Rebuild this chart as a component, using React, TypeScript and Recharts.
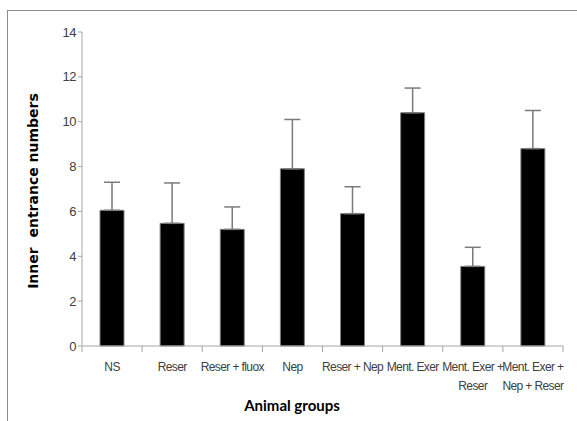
import { BarChart, Bar, XAxis, YAxis, ErrorBar } from "recharts";

const groups = [
  "NS",
  "Reser",
  "Reser + fluox",
  "Nep",
  "Reser + Nep",
  "Ment. Exer",
  "Ment. Exer +\nReser",
  "Ment. Exer +\nNep + Reser",
];
const means = [6.05, 5.47, 5.2, 7.9, 5.9, 10.4, 3.55, 8.8];
const errors = [1.25, 1.8, 1.0, 2.2, 1.2, 1.1, 0.85, 1.7];
const yTicks = [0, 2, 4, 6, 8, 10, 12, 14];

const data = groups.map((g, i) => ({ name: g, value: means[i], err: [0, errors[i]] }));

const tickFont = "'Liberation Sans', Arial, sans-serif";

const XTick = ({ x, y, payload, index }: any) => {
  const step = 481 / groups.length;
  const lines = String(payload.value).split("\n");
  return (
    <g>
      <line x1={x - step / 2} x2={x - step / 2} y1={y - 8} y2={y - 2} stroke="#a6a6a6" />
      {index === groups.length - 1 && (
        <line x1={x + step / 2} x2={x + step / 2} y1={y - 8} y2={y - 2} stroke="#a6a6a6" />
      )}
      {lines.map((l, i) => (
        <text
          key={i}
          x={x}
          y={y + 17 + i * 19}
          textAnchor="middle"
          fontSize={12}
          letterSpacing={-0.6}
          fill="#404040"
          fontFamily={tickFont}
        >
          {l}
        </text>
      ))}
    </g>
  );
};

export default function App() {
  return (
    <div style={{ position: "absolute", left: 0, top: 0, width: 577, height: 421, background: "#fff" }}>
      <div
        style={{
          position: "absolute",
          left: 7,
          top: 10,
          width: 570,
          height: 411,
          borderLeft: "1px solid #8c8c8c",
          borderTop: "1px solid #8c8c8c",
        }}
      />
      <BarChart
        width={577}
        height={421}
        data={data}
        margin={{ top: 32, right: 14, bottom: 0, left: 22 }}
        barCategoryGap={0}
        style={{ position: "absolute", left: 0, top: 0 }}
      >
        <XAxis
          dataKey="name"
          tick={<XTick />}
          tickLine={false}
          axisLine={{ stroke: "#a6a6a6" }}
          interval={0}
          height={75}
        />
        <YAxis
          domain={[0, 14]}
          ticks={yTicks}
          width={60}
          axisLine={{ stroke: "#a6a6a6" }}
          tickLine={{ stroke: "#a6a6a6" }}
          tickSize={4}
          tick={{ fontSize: 13, fill: "#404040", fontFamily: tickFont, letterSpacing: -0.5 }}
        />
        <Bar dataKey="value" fill="#000" stroke="#808080" strokeWidth={1} barSize={24} isAnimationActive={false}>
          <ErrorBar dataKey="err" width={8} stroke="#7a7a7a" strokeWidth={1.5} direction="y" />
        </Bar>
      </BarChart>
      <div
        style={{
          position: "absolute",
          left: 33,
          top: 191,
          transform: "translate(-50%, -50%) rotate(-90deg)",
          whiteSpace: "pre",
          fontFamily: "'DejaVu Sans', Verdana, sans-serif",
          fontWeight: "bold",
          fontSize: 14,
          color: "#000",
        }}
      >
        {"Inner  entrance numbers"}
      </div>
      <div
        style={{
          position: "absolute",
          left: 292,
          top: 405,
          transform: "translate(-50%, -50%)",
          whiteSpace: "pre",
          fontFamily: "Lato, sans-serif",
          fontWeight: "bold",
          fontSize: 15,
          color: "#000",
        }}
      >
        Animal groups
      </div>
    </div>
  );
}
